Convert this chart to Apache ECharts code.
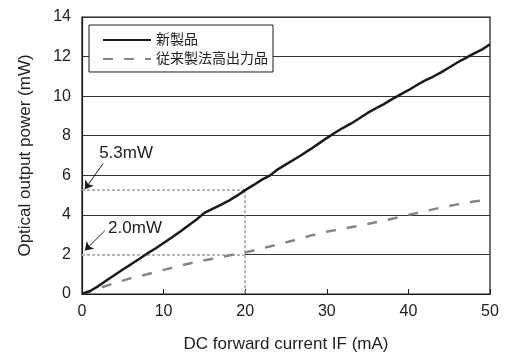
<!DOCTYPE html>
<html><head><meta charset="utf-8">
<script src="https://cdn.jsdelivr.net/npm/echarts@6/dist/echarts.min.js"></script>
<style>html,body{margin:0;padding:0;background:#fff}#c{width:508px;height:358px}</style>
</head><body><div id="c"></div>
<script>
// ---- data ----
const seriesNames = ['新製品', '従来製法高出力品'];
const newX = [0,1,2,3,4,5,6,7,8,9,10,11,12,13,14,15,16,17,18,19,20,21,22,23,24,25,26,27,28,29,30,31,32,33,34,35,36,37,38,39,40,41,42,43,44,45,46,47,48,49,50];
const newY = [0,0.15,0.4,0.68,0.96,1.24,1.5,1.77,2.05,2.3,2.58,2.86,3.15,3.45,3.75,4.1,4.3,4.5,4.72,4.97,5.25,5.5,5.77,5.98,6.3,6.55,6.8,7.05,7.32,7.6,7.88,8.15,8.4,8.62,8.88,9.15,9.38,9.6,9.85,10.08,10.3,10.55,10.78,10.98,11.2,11.45,11.7,11.92,12.15,12.35,12.62];
const oldX = [0,2,4,6,8,10,12,14,16,18,20,22,24,26,28,30,32,34,36,38,40,42,44,46,48,50];
const oldY = [0,0.28,0.55,0.8,1.0,1.22,1.43,1.62,1.78,1.95,2.1,2.3,2.5,2.72,2.95,3.15,3.3,3.45,3.63,3.8,4.0,4.18,4.37,4.53,4.67,4.78];
const refCurrent = 20;
const refNew = 5.25, refOld = 2.0;
const refLabels = ['5.3mW', '2.0mW'];
const xName = 'DC forward current IF (mA)';
const yName = 'Optical output power (mW)';

const font = '"Liberation Sans", Arial, "Noto Sans CJK JP", sans-serif';
const chart = echarts.init(document.getElementById('c'));
const pair = (xs, ys) => xs.map((x, i) => [x, ys[i]]);
const dotted = {color: '#a0a0a0', width: 1.5, type: [3, 2]};

chart.setOption({
  animation: false,
  textStyle: {fontFamily: font},
  grid: {left: 82, right: 18, top: 17, bottom: 61, show: true, borderColor: '#1a1a1a', borderWidth: 1.2, backgroundColor: 'transparent'},
  legend: {
    orient: 'vertical', left: 89, top: 25,
    backgroundColor: '#fff', borderColor: '#1a1a1a', borderWidth: 1,
    padding: [8, 5, 6, 13], itemWidth: 48, itemHeight: 14, itemGap: 5,
    itemStyle: {opacity: 0},
    textStyle: {fontSize: 14, color: '#222', fontFamily: font},
    data: seriesNames
  },
  xAxis: {
    type: 'value', min: 0, max: 50, interval: 10,
    name: xName, nameLocation: 'middle', nameGap: 42,
    nameTextStyle: {fontSize: 17, color: '#222'},
    axisLine: {show: true, lineStyle: {color: '#1a1a1a', width: 1.2}},
    axisTick: {show: true, inside: true, length: 5, lineStyle: {color: '#1a1a1a'}},
    axisLabel: {fontSize: 16, color: '#222', margin: 10},
    splitLine: {show: false}
  },
  yAxis: {
    type: 'value', min: 0, max: 14, interval: 2,
    name: yName, nameLocation: 'middle', nameGap: 48,
    nameTextStyle: {fontSize: 17, color: '#222'},
    axisLine: {show: true, lineStyle: {color: '#1a1a1a', width: 1.2}},
    axisTick: {show: false},
    axisLabel: {fontSize: 16, color: '#222', margin: 11},
    splitLine: {show: true, lineStyle: {color: '#333', width: 1}}
  },
  series: [
    {
      name: 'refs', type: 'line', data: [], silent: true, z: 3,
      markLine: {
        silent: true, symbol: ['none', 'none'], label: {show: false}, animation: false,
        data: [
          [{coord: [0, refOld], lineStyle: {color: '#fff', width: 2, type: 'solid'}}, {coord: [refCurrent, refOld]}],
          [{coord: [0, refOld], lineStyle: dotted}, {coord: [refCurrent, refOld]}],
          [{coord: [0, refNew], lineStyle: dotted}, {coord: [refCurrent, refNew]}],
          [{coord: [refCurrent, refNew], lineStyle: dotted}, {coord: [refCurrent, 0]}]
        ]
      },
      markPoint: {
        silent: true, symbol: 'circle', symbolSize: 0,
        label: {show: true, position: 'right', distance: 0, fontSize: 17, color: '#222', formatter: p => p.name},
        data: [
          {name: refLabels[0], coord: [2.1, 7.1]},
          {name: refLabels[1], coord: [3.2, 3.3]}
        ]
      }
    },
    {
      name: 'arrows', type: 'line', data: [], silent: true, z: 4,
      markLine: {
        silent: true, symbol: ['none', 'arrow'], symbolSize: 8, label: {show: false},
        itemStyle: {color: '#1a1a1a'},
        lineStyle: {color: '#1a1a1a', width: 1, type: 'solid'},
        data: [
          [{coord: [2.6, 6.6]}, {coord: [0.35, refNew + 0.05]}],
          [{coord: [2.8, 3.2]}, {coord: [0.35, refOld + 0.2]}]
        ]
      }
    },
    {
      name: seriesNames[1], type: 'line', data: pair(oldX, oldY), symbol: 'none', z: 5,
      lineStyle: {color: '#858585', width: 2.5, type: [10, 11]},
      itemStyle: {color: '#858585'}
    },
    {
      name: seriesNames[0], type: 'line', data: pair(newX, newY), symbol: 'none', z: 6,
      lineStyle: {color: '#1a1a1a', width: 2.5},
      itemStyle: {color: '#1a1a1a'}
    }
  ]
});
</script></body></html>
